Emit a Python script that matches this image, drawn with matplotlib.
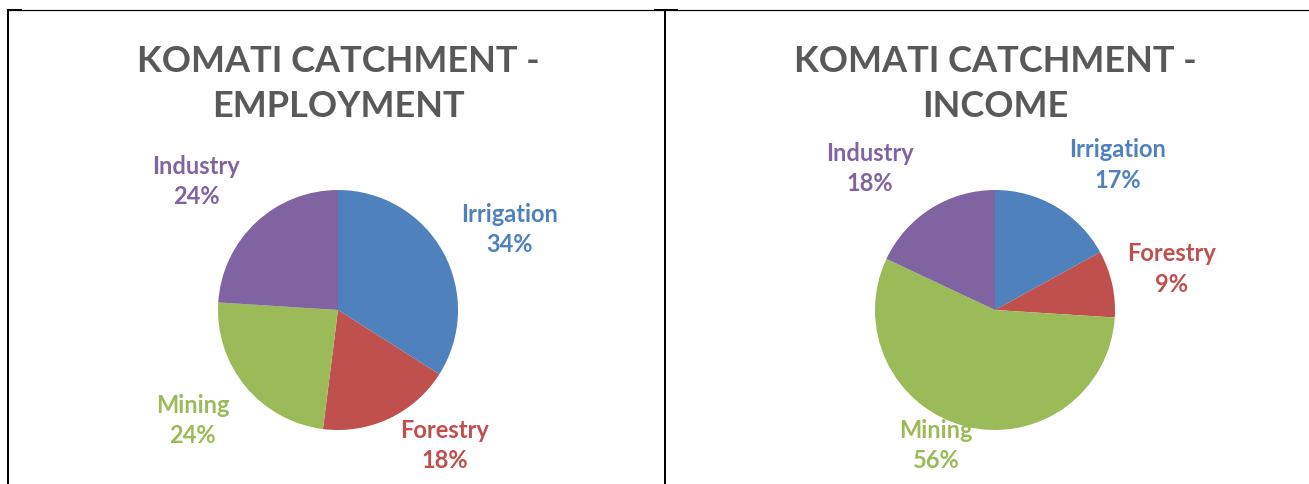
import matplotlib
matplotlib.use("Agg")
import matplotlib.pyplot as plt
from matplotlib.lines import Line2D

categories = ["Irrigation", "Forestry", "Mining", "Industry"]
employment = [34, 18, 24, 24]
income = [17, 9, 56, 18]
titles = ["KOMATI CATCHMENT -\nEMPLOYMENT", "KOMATI CATCHMENT -\nINCOME"]
colors = ["#4F81BD", "#C0504D", "#9BBB59", "#8064A2"]
title_color = "#595959"

# label positions in pie-radius units (Excel layout)
label_pos = [
    [(1.43, 0.67), (0.89, -1.13), (-1.21, -0.92), (-1.18, 1.07)],
    [(1.02, 1.21), (1.47, 0.34), (-0.49, -1.13), (-1.04, 1.18)],
]

W, H = 1309, 484
DPI = 100
plt.rcParams['font.family'] = ['Lato', 'DejaVu Sans']
fig = plt.figure(figsize=(W / DPI, H / DPI), dpi=DPI)

R = 120.0  # pie radius in px
centers = [(338, 310), (995, 310)]
title_x = [338, 995]

for i, (vals, title) in enumerate(zip([employment, income], titles)):
    cx, cy = centers[i]
    half = 2 * R
    ax = fig.add_axes([(cx - half) / W, (H - cy - half) / H, 2 * half / W, 2 * half / H])
    ax.pie(vals, colors=colors, startangle=90, counterclock=False, radius=1.0,
           wedgeprops=dict(linewidth=0))
    ax.set_xlim(-2, 2)
    ax.set_ylim(-2, 2)
    ax.set_aspect('equal')
    ax.axis('off')
    for j, (cat, v) in enumerate(zip(categories, vals)):
        x, y = label_pos[i][j]
        ax.text(x, y, f"{cat}\n{v}%", color=colors[j], fontsize=17, fontweight='bold',
                ha='center', va='center', linespacing=1.4)
    fig.text(title_x[i] / W, 1 - 84 / H, title, color=title_color, fontsize=26,
             fontweight='bold', ha='center', va='center', linespacing=1.48)

def px_line(x0, y0, x1, y1, lw):
    fig.add_artist(Line2D([x0 / W, x1 / W], [1 - y0 / H, 1 - y1 / H],
                          transform=fig.transFigure, color='black', linewidth=lw * 72 / DPI,
                          solid_capstyle='butt'))

px_line(7, 9.5, W, 9.5, 1.2)
px_line(7, 9.5, 22, 9.5, 2)
px_line(654, 9.5, 678, 9.5, 2)
px_line(7.5, 9, 7.5, H, 2)
px_line(665, 9, 665, H, 2)

fig.savefig("out.png", dpi=DPI)
